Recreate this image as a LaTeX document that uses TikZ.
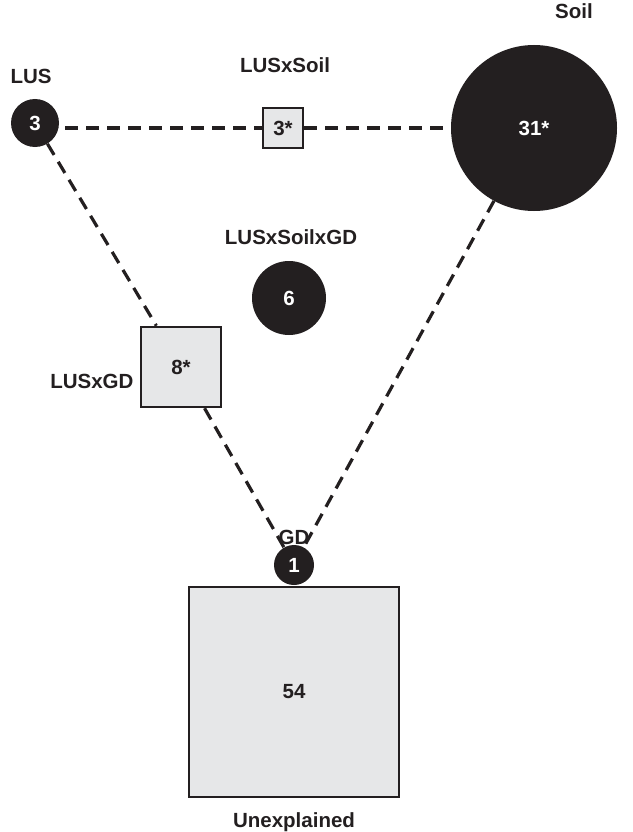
\documentclass[tikz,border=0pt]{standalone}
\usepackage{fontspec}
\setmainfont{Liberation Sans}
\definecolor{darkfill}{HTML}{231F20}
\definecolor{lightfill}{HTML}{E6E7E8}
\begin{document}
\begin{tikzpicture}[
    x=1pt, y=-1pt,
    font=\fontsize{20.5}{24}\selectfont\bfseries,
    fx/.style={circle, fill=darkfill, text=white, inner sep=0pt},
    sq/.style={rectangle, draw=darkfill, line width=2.5pt, fill=lightfill, text=darkfill, inner sep=0pt},
    lbl/.style={text=darkfill},
    link/.style={line width=3.2pt, dash pattern=on 13pt off 8pt, darkfill}
  ]
  \useasboundingbox (0,0) rectangle (632,832);
  % factors
  \node[fx, minimum size=48pt] (lus) at (35,123) {3};
  \node[sq, minimum size=40pt] (lussoil) at (283,128) {3*};
  \node[fx, minimum size=166pt] (soil) at (534,128) {31*};
  \node[fx, minimum size=74pt] (lussoilgd) at (289,298) {6};
  \node[sq, minimum size=80pt] (lusgd) at (181,367) {8*};
  \node[fx, minimum size=40pt] (gd) at (294,565) {1};
  \node[sq, minimum size=210pt] (unexpl) at (294,692) {54};
  % labels
  \node[lbl] at (31,76) {LUS};
  \node[lbl] at (285,65) {LUSxSoil};
  \node[lbl] at (574,11) {Soil};
  \node[lbl] at (291,237) {LUSxSoilxGD};
  \node[lbl, anchor=east] at (137,381) {LUSxGD};
  \node[lbl] at (294,537) {GD};
  \node[lbl] at (294,822) {Unexplained};
  % links
  \draw[link, shorten <=6pt] (lus.east |- lussoil.west) -- (lussoil.west);
  \draw[link] (lussoil) -- (soil);
  \draw[link] (lus) -- (lusgd);
  \draw[link] (lusgd) -- (gd);
  \draw[link] (soil) -- (gd);
\end{tikzpicture}
\end{document}
